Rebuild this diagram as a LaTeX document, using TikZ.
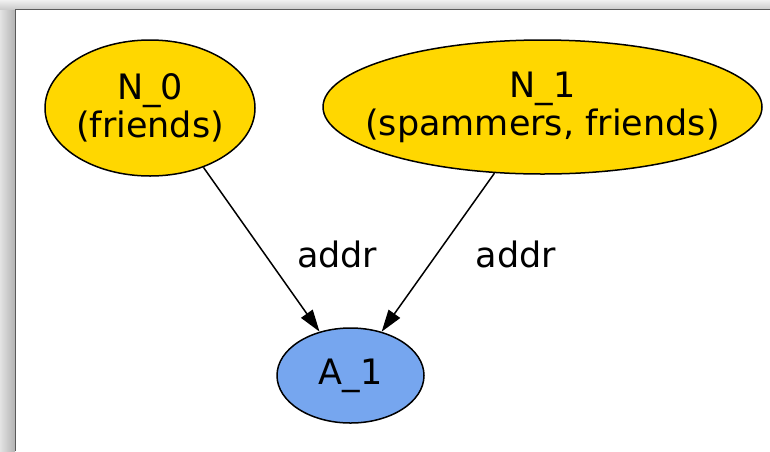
\documentclass[tikz,border=0pt]{standalone}
\usepackage{fontspec}
\setmainfont{DejaVu Sans}
\usepackage{xcolor}
\definecolor{cGold}{HTML}{FFD700}
\definecolor{cBlue}{HTML}{76A6EF}
\definecolor{cFrame}{HTML}{5A5A5A}
\usetikzlibrary{arrows.meta,shapes.geometric}
\tikzset{
  node-ellipse/.style={draw=black,line width=1.5pt,ellipse,inner xsep=-40pt,
    inner ysep=0pt,align=center,font=\fontsize{35}{38}\selectfont},
  node-gold/.style={node-ellipse,fill=cGold},
  node-blue/.style={node-ellipse,fill=cBlue},
  arrow/.style={-{Triangle[length=22pt,width=14pt]},line width=1.5pt,draw=black},
  edge-label/.style={font=\fontsize{35}{38}\selectfont,inner sep=0pt,
    right=36pt,yshift=-7pt,pos=0.49},
}
\begin{document}
\begin{tikzpicture}[x=1pt,y=-1pt]
  \useasboundingbox (0,0) rectangle (770,451);
  % window frame
  \fill[gray!35] (0,0) rectangle (770,451);
  \shade[left color=gray!22,right color=gray!60] (0,9) rectangle (15,451);
  \shade[top color=gray!12,bottom color=gray!40] (0,0) rectangle (770,9);
  \fill[white] (16,10) rectangle (770,451);
  \draw[cFrame,line width=1.5pt] (15.5,451) -- (15.5,9.5) -- (770,9.5);

  \node[node-gold,minimum width=210pt,minimum height=136pt] (n0) at (150,108) {N\_0\\(friends)};
  \node[node-gold,minimum width=439pt,minimum height=134pt] (n1) at (542.5,107) {N\_1\\(spammers, friends)};
  \node[node-blue,minimum width=147pt,minimum height=95pt] (a1) at (350.5,375.5) {A\_1};
  \draw[arrow] (n0.-48) -- (a1) node[edge-label] {addr};
  \draw[arrow] (n1.-126) -- (a1) node[edge-label,yshift=3pt] {addr};
\end{tikzpicture}
\end{document}
